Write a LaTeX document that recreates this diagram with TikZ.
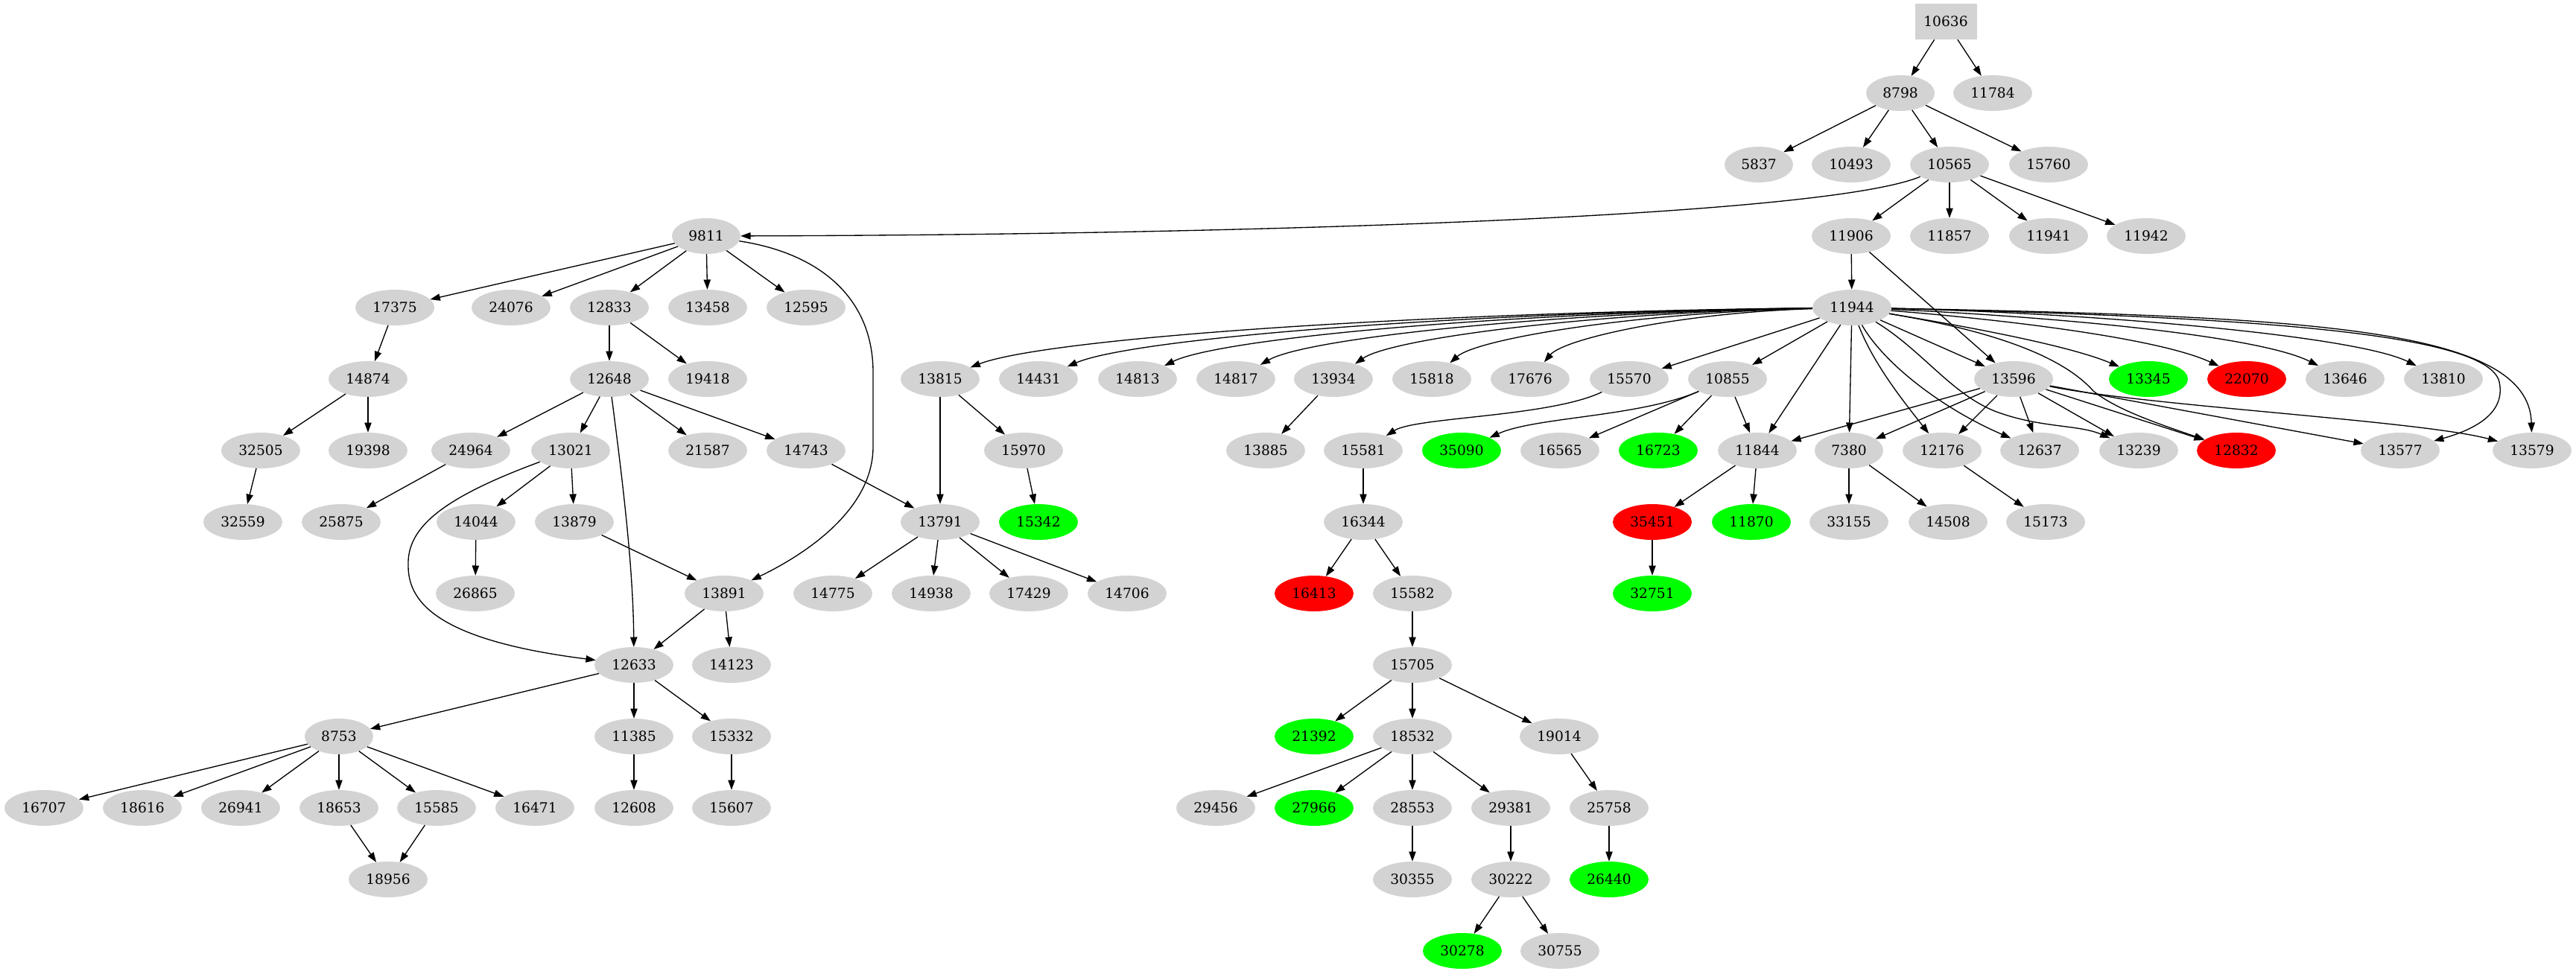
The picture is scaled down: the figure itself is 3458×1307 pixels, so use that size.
\documentclass[tikz,border=0pt]{standalone}
\usepackage{fontspec}
\setmainfont{DejaVu Serif}
\usetikzlibrary{shapes.geometric,arrows.meta}
\definecolor{lgray}{HTML}{D3D3D3}
\definecolor{lgreen}{HTML}{00FF00}
\definecolor{lred}{HTML}{FF0000}
\newcommand\fsz{\fontsize{18.67pt}{22pt}\selectfont}
\tikzset{
  nd/.style={ellipse, fill=lgray, minimum width=106pt, minimum height=48pt, inner sep=0pt, font=\fsz},
  nf/.style={nd, minimum width=92pt},
  gr/.style={nd, fill=lgreen},
  rd/.style={nd, fill=lred},
  bx/.style={rectangle, fill=lgray, minimum width=83pt, minimum height=48pt, inner sep=0pt, font=\fsz},
  ar/.style={-{Triangle[length=13.3pt,width=9.3pt]}, line width=1.33pt}
}
\begin{document}
\begin{tikzpicture}[x=1pt,y=-1pt]
\fill[white] (0,0) rectangle (3458,1307);
\useasboundingbox (0,0) rectangle (3458,1307);
% rank 0
\node[bx] (n10636) at (2612,29) {10636};
% rank 1
\node[nf] (n8798) at (2551,125) {8798};
\node[nd] (n11784) at (2675,125) {11784};
% rank 2
\node[nf] (n5837) at (2361,221) {5837};
\node[nd] (n10493) at (2485,221) {10493};
\node[nd] (n10565) at (2617,221) {10565};
\node[nd] (n15760) at (2750,221) {15760};
% rank 3
\node[nf] (n9811) at (948,317) {9811};
\node[nd] (n11906) at (2485,317) {11906};
\node[nd] (n11857) at (2617,317) {11857};
\node[nd] (n11941) at (2750,317) {11941};
\node[nd] (n11942) at (2881,317) {11942};
% rank 4
\node[nd] (n17375) at (530,413) {17375};
\node[nd] (n24076) at (686,413) {24076};
\node[nd] (n12833) at (818,413) {12833};
\node[nd] (n13458) at (950,413) {13458};
\node[nd] (n12595) at (1082,413) {12595};
\node[nd] (n11944) at (2486,413) {11944};
% rank 5
\node[nd] (n14874) at (494,509) {14874};
\node[nd] (n12648) at (818,509) {12648};
\node[nd] (n19418) at (950,509) {19418};
\node[nd] (n13815) at (1262,509) {13815};
\node[nd] (n14431) at (1394,509) {14431};
\node[nd] (n14813) at (1527,509) {14813};
\node[nd] (n14817) at (1659,509) {14817};
\node[nd] (n13934) at (1790,509) {13934};
\node[nd] (n15818) at (1922,509) {15818};
\node[nd] (n17676) at (2054,509) {17676};
\node[nd] (n15570) at (2187,509) {15570};
\node[nd] (n10855) at (2319,509) {10855};
\node[nd] (n13596) at (2703,509) {13596};
\node[gr] (n13345) at (2884,509) {13345};
\node[rd] (n22070) at (3016,509) {22070};
\node[nd] (n13646) at (3148,509) {13646};
\node[nd] (n13810) at (3280,509) {13810};
% rank 6
\node[nd] (n32505) at (350,605) {32505};
\node[nd] (n19398) at (494,605) {19398};
\node[nd] (n24964) at (632,605) {24964};
\node[nd] (n13021) at (766,605) {13021};
\node[nd] (n21587) at (950,605) {21587};
\node[nd] (n14743) at (1082,605) {14743};
\node[nd] (n15970) at (1374,605) {15970};
\node[nd] (n13885) at (1699,605) {13885};
\node[nd] (n15581) at (1830,605) {15581};
\node[gr] (n35090) at (1962,605) {35090};
\node[nd] (n16565) at (2094,605) {16565};
\node[gr] (n16723) at (2226,605) {16723};
\node[nd] (n11844) at (2359,605) {11844};
\node[nf] (n7380) at (2482,605) {7380};
\node[nd] (n12176) at (2607,605) {12176};
\node[nd] (n12637) at (2738,605) {12637};
\node[nd] (n13239) at (2871,605) {13239};
\node[rd] (n12832) at (3002,605) {12832};
\node[nd] (n13577) at (3222,605) {13577};
\node[nd] (n13579) at (3399,605) {13579};
% rank 7
\node[nd] (n32559) at (326,701) {32559};
\node[nd] (n25875) at (458,701) {25875};
\node[nd] (n14044) at (639,701) {14044};
\node[nd] (n13879) at (771,701) {13879};
\node[nd] (n13791) at (1262,701) {13791};
\node[gr] (n15342) at (1394,701) {15342};
\node[nd] (n16344) at (1830,701) {16344};
\node[rd] (n35451) at (2218,701) {35451};
\node[gr] (n11870) at (2351,701) {11870};
\node[nd] (n33155) at (2482,701) {33155};
\node[nd] (n14508) at (2615,701) {14508};
\node[nd] (n15173) at (2746,701) {15173};
% rank 8
\node[nd] (n26865) at (638,797) {26865};
\node[nd] (n13891) at (972,797) {13891};
\node[nd] (n14775) at (1118,797) {14775};
\node[nd] (n14938) at (1250,797) {14938};
\node[nd] (n17429) at (1381,797) {17429};
\node[nd] (n14706) at (1513,797) {14706};
\node[rd] (n16413) at (1764,797) {16413};
\node[nd] (n15582) at (1896,797) {15582};
\node[gr] (n32751) at (2218,797) {32751};
% rank 9
\node[nd] (n12633) at (851,893) {12633};
\node[nd] (n14123) at (982,893) {14123};
\node[nd] (n15705) at (1896,893) {15705};
% rank 10
\node[nf] (n8753) at (455,989) {8753};
\node[nd] (n11385) at (851,989) {11385};
\node[nd] (n15332) at (982,989) {15332};
\node[gr] (n21392) at (1764,989) {21392};
\node[nd] (n18532) at (1896,989) {18532};
\node[nd] (n19014) at (2093,989) {19014};
% rank 11
\node[nd] (n16707) at (59,1085) {16707};
\node[nd] (n18616) at (191,1085) {18616};
\node[nd] (n26941) at (323,1085) {26941};
\node[nd] (n18653) at (455,1085) {18653};
\node[nd] (n15585) at (586,1085) {15585};
\node[nd] (n16471) at (718,1085) {16471};
\node[nd] (n12608) at (851,1085) {12608};
\node[nd] (n15607) at (982,1085) {15607};
\node[nd] (n29456) at (1632,1085) {29456};
\node[gr] (n27966) at (1764,1085) {27966};
\node[nd] (n28553) at (1896,1085) {28553};
\node[nd] (n29381) at (2028,1085) {29381};
\node[nd] (n25758) at (2160,1085) {25758};
% rank 12
\node[nd] (n18956) at (521,1181) {18956};
\node[nd] (n30355) at (1896,1181) {30355};
\node[nd] (n30222) at (2028,1181) {30222};
\node[gr] (n26440) at (2160,1181) {26440};
% rank 13
\node[gr] (n30278) at (1963,1277) {30278};
\node[nd] (n30755) at (2094,1277) {30755};

% ---- edges ----
\draw[ar] (n10636) -- (n8798);
\draw[ar] (n10636) -- (n11784);
\draw[ar] (n8798) -- (n5837);
\draw[ar] (n8798) -- (n10493);
\draw[ar] (n8798) -- (n10565);
\draw[ar] (n8798) -- (n15760);
\draw[ar] (n10565) .. controls (2450,290) and (1700,315) .. (n9811);
\draw[ar] (n10565) -- (n11906);
\draw[ar] (n10565) -- (n11857);
\draw[ar] (n10565) -- (n11941);
\draw[ar] (n10565) -- (n11942);
\draw[ar] (n11906) -- (n11944);
\draw[ar] (n11906) -- (n13596);
% 9811 subtree
\draw[ar] (n9811) -- (n17375);
\draw[ar] (n9811) -- (n24076);
\draw[ar] (n9811) -- (n12833);
\draw[ar] (n9811) -- (n13458);
\draw[ar] (n9811) -- (n12595);
\draw[ar] (n9811) .. controls (1100,340) and (1172,400) .. (1172,500) -- (1172,600) .. controls (1172,680) and (1090,740) .. (n13891);
\draw[ar] (n17375) -- (n14874);
\draw[ar] (n14874) -- (n32505);
\draw[ar] (n14874) -- (n19398);
\draw[ar] (n32505) -- (n32559);
\draw[ar] (n12833) -- (n12648);
\draw[ar] (n12833) -- (n19418);
\draw[ar] (n12648) -- (n24964);
\draw[ar] (n12648) -- (n13021);
\draw[ar] (n12648) -- (n21587);
\draw[ar] (n12648) -- (n14743);
\draw[ar] (n12648) .. controls (835,640) and (850,760) .. (n12633);
\draw[ar] (n24964) -- (n25875);
\draw[ar] (n13021) -- (n14044);
\draw[ar] (n13021) -- (n13879);
\draw[ar] (n13021) .. controls (590,670) and (546,710) .. (548,760) .. controls (548,810) and (590,860) .. (n12633);
\draw[ar] (n14044) -- (n26865);
\draw[ar] (n13879) -- (n13891);
\draw[ar] (n14743) -- (n13791);
\draw[ar] (n13891) -- (n12633);
\draw[ar] (n13891) -- (n14123);
\draw[ar] (n12633) -- (n8753);
\draw[ar] (n12633) -- (n11385);
\draw[ar] (n12633) -- (n15332);
\draw[ar] (n8753) -- (n16707);
\draw[ar] (n8753) -- (n18616);
\draw[ar] (n8753) -- (n26941);
\draw[ar] (n8753) -- (n18653);
\draw[ar] (n8753) -- (n15585);
\draw[ar] (n8753) -- (n16471);
\draw[ar] (n18653) -- (n18956);
\draw[ar] (n15585) -- (n18956);
\draw[ar] (n11385) -- (n12608);
\draw[ar] (n15332) -- (n15607);
% 11944 fan left
\draw[ar] (n11944) .. controls (1883,420) and (1402,455) .. (n13815);
\draw[ar] (n11944) .. controls (1945,420) and (1519,455) .. (n14431);
\draw[ar] (n11944) .. controls (2007,420) and (1636,455) .. (n14813);
\draw[ar] (n11944) .. controls (2069,420) and (1752,455) .. (n14817);
\draw[ar] (n11944) .. controls (2131,420) and (1867,455) .. (n13934);
\draw[ar] (n11944) .. controls (2193,420) and (1983,455) .. (n15818);
\draw[ar] (n11944) .. controls (2255,420) and (2099,455) .. (n17676);
\draw[ar] (n11944) -- (n15570);
\draw[ar] (n11944) -- (n10855);
\draw[ar] (n11944) -- (n11844);
\draw[ar] (n11944) -- (n7380);
\draw[ar] (n11944) .. controls (2515,490) and (2560,545) .. (n12176);
\draw[ar] (n11944) .. controls (2530,490) and (2610,550) .. (n12637);
\draw[ar] (n11944) -- (n13596);
% 11944 fan right
\draw[ar] (n11944) .. controls (2580,470) and (2620,530) .. (2680,553) .. controls (2740,575) and (2790,570) .. (n13239);
\draw[ar] (n11944) .. controls (2680,445) and (2770,480) .. (2810,525) .. controls (2840,550) and (2900,570) .. (n12832);
\draw[ar] (n11944) .. controls (2650,440) and (2780,465) .. (n13345);
\draw[ar] (n11944) .. controls (2700,430) and (2900,455) .. (n22070);
\draw[ar] (n11944) .. controls (2750,425) and (3030,450) .. (n13646);
\draw[ar] (n11944) .. controls (2800,420) and (3160,450) .. (n13810);
\draw[ar] (n11944) .. controls (3000,425) and (3340,445) .. (3355,513) .. controls (3365,560) and (3310,580) .. (n13577);
\draw[ar] (n11944) .. controls (3100,425) and (3395,440) .. (n13579);
% middle
\draw[ar] (n13815) -- (n13791);
\draw[ar] (n13815) -- (n15970);
\draw[ar] (n15970) -- (n15342);
\draw[ar] (n13934) -- (n13885);
\draw[ar] (n13791) -- (n14775);
\draw[ar] (n13791) -- (n14938);
\draw[ar] (n13791) -- (n17429);
\draw[ar] (n13791) -- (n14706);
\draw[ar] (n15570) .. controls (2080,560) and (1900,560) .. (n15581);
\draw[ar] (n15581) -- (n16344);
\draw[ar] (n16344) -- (n16413);
\draw[ar] (n16344) -- (n15582);
\draw[ar] (n15582) -- (n15705);
\draw[ar] (n15705) -- (n21392);
\draw[ar] (n15705) -- (n18532);
\draw[ar] (n15705) -- (n19014);
\draw[ar] (n18532) -- (n29456);
\draw[ar] (n18532) -- (n27966);
\draw[ar] (n18532) -- (n28553);
\draw[ar] (n18532) -- (n29381);
\draw[ar] (n19014) -- (n25758);
\draw[ar] (n25758) -- (n26440);
\draw[ar] (n28553) -- (n30355);
\draw[ar] (n29381) -- (n30222);
\draw[ar] (n30222) -- (n30278);
\draw[ar] (n30222) -- (n30755);
\draw[ar] (n10855) .. controls (2200,560) and (2060,560) .. (n35090);
\draw[ar] (n10855) -- (n16565);
\draw[ar] (n10855) -- (n16723);
\draw[ar] (n10855) -- (n11844);
\draw[ar] (n11844) -- (n35451);
\draw[ar] (n11844) -- (n11870);
\draw[ar] (n35451) -- (n32751);
% 13596
\draw[ar] (n13596) -- (n11844);
\draw[ar] (n13596) -- (n7380);
\draw[ar] (n13596) -- (n12176);
\draw[ar] (n13596) -- (n12637);
\draw[ar] (n13596) -- (n13239);
\draw[ar] (n13596) -- (n12832);
\draw[ar] (n13596) -- (n13577);
\draw[ar] (n13596) .. controls (2880,545) and (3250,565) .. (n13579);
\draw[ar] (n7380) -- (n33155);
\draw[ar] (n7380) -- (n14508);
\draw[ar] (n12176) -- (n15173);
\end{tikzpicture}
\end{document}
